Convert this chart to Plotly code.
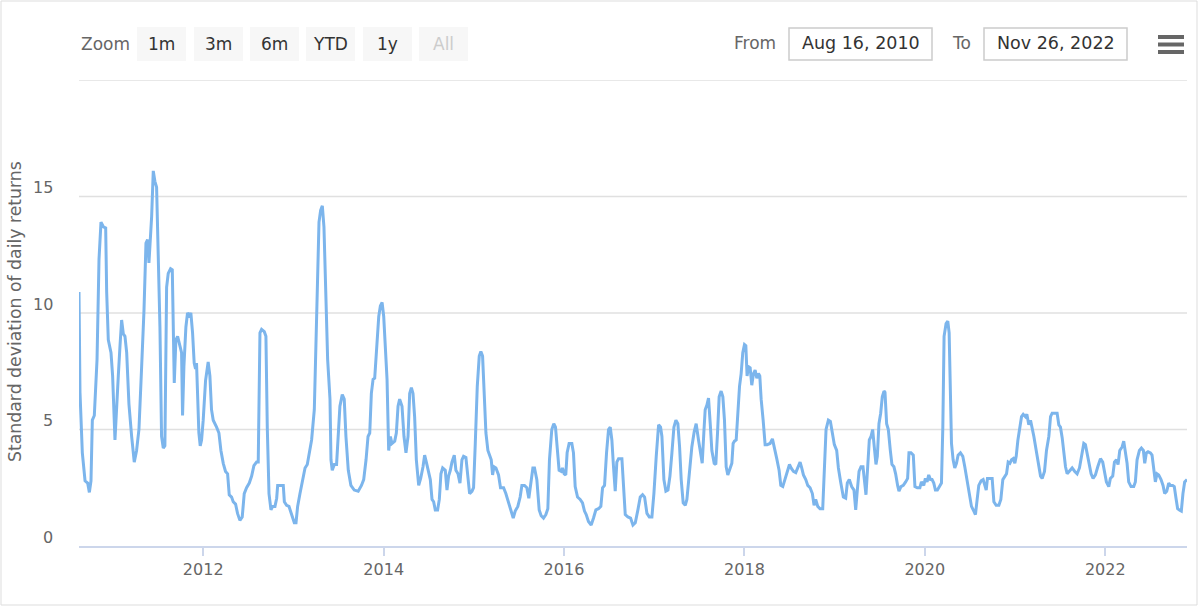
import pandas as pd
import plotly.graph_objects as go

# ---------------- data ----------------
decimal_year = [
    2010.622, 2010.633, 2010.659, 2010.689, 2010.718, 2010.737, 2010.755, 2010.770, 2010.792, 2010.822,
    2010.844, 2010.866, 2010.892, 2010.918, 2010.929, 2010.947, 2010.977, 2010.995, 2011.021, 2011.040,
    2011.058, 2011.077, 2011.095, 2011.114, 2011.132, 2011.151, 2011.176, 2011.206, 2011.235, 2011.261,
    2011.287, 2011.317, 2011.343, 2011.365, 2011.383, 2011.398, 2011.413, 2011.428, 2011.446, 2011.464,
    2011.483, 2011.501, 2011.520, 2011.538, 2011.557, 2011.575, 2011.594, 2011.612, 2011.638, 2011.657,
    2011.668, 2011.679, 2011.697, 2011.716, 2011.741, 2011.760, 2011.771, 2011.786, 2011.808, 2011.826,
    2011.845, 2011.863, 2011.882, 2011.900, 2011.915, 2011.926, 2011.937, 2011.952, 2011.967, 2011.982,
    2012.000, 2012.026, 2012.055, 2012.074, 2012.092, 2012.111, 2012.148, 2012.174, 2012.196, 2012.222,
    2012.247, 2012.270, 2012.288, 2012.314, 2012.332, 2012.358, 2012.380, 2012.406, 2012.432, 2012.454,
    2012.480, 2012.510, 2012.536, 2012.561, 2012.591, 2012.609, 2012.628, 2012.646, 2012.676, 2012.694,
    2012.709, 2012.728, 2012.750, 2012.768, 2012.794, 2012.813, 2012.824, 2012.850, 2012.886, 2012.898,
    2012.923, 2012.949, 2012.979, 2013.008, 2013.027, 2013.045, 2013.071, 2013.101, 2013.127, 2013.152,
    2013.175, 2013.200, 2013.230, 2013.256, 2013.282, 2013.300, 2013.319, 2013.337, 2013.356, 2013.378,
    2013.404, 2013.415, 2013.429, 2013.452, 2013.477, 2013.496, 2013.514, 2013.540, 2013.562, 2013.581,
    2013.607, 2013.636, 2013.673, 2013.717,
    2013.753, 2013.778, 2013.804, 2013.826, 2013.845, 2013.863, 2013.882, 2013.900, 2013.919, 2013.945,
    2013.963, 2013.982, 2014.000, 2014.018, 2014.037, 2014.055, 2014.074, 2014.092, 2014.122, 2014.140,
    2014.159, 2014.177, 2014.203, 2014.225, 2014.247, 2014.270, 2014.288, 2014.307, 2014.325, 2014.343,
    2014.362, 2014.388, 2014.410, 2014.436, 2014.454, 2014.473, 2014.499, 2014.517, 2014.536, 2014.554,
    2014.572, 2014.598, 2014.617, 2014.635, 2014.654, 2014.683, 2014.702, 2014.720, 2014.739, 2014.757,
    2014.783, 2014.801, 2014.824, 2014.846, 2014.868, 2014.886, 2014.912, 2014.934, 2014.953, 2014.979,
    2014.997, 2015.016, 2015.038, 2015.060, 2015.078, 2015.097, 2015.115, 2015.134, 2015.156, 2015.175,
    2015.193, 2015.208, 2015.223, 2015.245, 2015.274, 2015.296, 2015.330, 2015.355, 2015.385, 2015.415,
    2015.437, 2015.459, 2015.488, 2015.514, 2015.533, 2015.562, 2015.588, 2015.610, 2015.633, 2015.655,
    2015.673, 2015.699, 2015.725, 2015.747, 2015.773, 2015.799, 2015.821, 2015.839, 2015.865, 2015.887,
    2015.906, 2015.924, 2015.946, 2015.969, 2015.983, 2016.002, 2016.020, 2016.035, 2016.057, 2016.087,
    2016.105, 2016.124, 2016.150, 2016.179, 2016.205, 2016.227, 2016.246, 2016.271, 2016.301, 2016.327,
    2016.353, 2016.382, 2016.408, 2016.427, 2016.449, 2016.471, 2016.493, 2016.512, 2016.530, 2016.548,
    2016.567, 2016.585, 2016.604, 2016.641, 2016.659, 2016.678, 2016.707, 2016.737, 2016.763, 2016.789,
    2016.818, 2016.844,
    2016.870, 2016.892, 2016.918, 2016.944, 2016.973, 2016.995, 2017.021, 2017.047, 2017.069, 2017.084,
    2017.106, 2017.128, 2017.151, 2017.173, 2017.195, 2017.217, 2017.239, 2017.261, 2017.280, 2017.298,
    2017.320, 2017.343, 2017.361, 2017.380, 2017.398, 2017.416, 2017.442, 2017.464, 2017.490, 2017.516,
    2017.531, 2017.549, 2017.564, 2017.583, 2017.601, 2017.620, 2017.638, 2017.664, 2017.682, 2017.701,
    2017.719, 2017.741, 2017.760, 2017.778, 2017.797, 2017.815, 2017.834, 2017.860, 2017.874, 2017.889,
    2017.908, 2017.926, 2017.945, 2017.963, 2017.981, 2018.000, 2018.015, 2018.029, 2018.044, 2018.063,
    2018.081, 2018.100, 2018.118, 2018.137, 2018.155, 2018.170, 2018.185, 2018.207, 2018.229, 2018.251,
    2018.284, 2018.310, 2018.332, 2018.358, 2018.384, 2018.403, 2018.425, 2018.451, 2018.476, 2018.499,
    2018.517, 2018.543, 2018.569, 2018.591, 2018.617, 2018.635, 2018.654, 2018.680, 2018.702, 2018.728,
    2018.753, 2018.772, 2018.790, 2018.813, 2018.838, 2018.868, 2018.886, 2018.905, 2018.931, 2018.953,
    2018.975, 2018.997, 2019.023, 2019.042, 2019.067, 2019.097, 2019.123, 2019.141, 2019.163, 2019.189,
    2019.215, 2019.234, 2019.252, 2019.271, 2019.293, 2019.315, 2019.330, 2019.348, 2019.367, 2019.385,
    2019.404, 2019.422, 2019.440, 2019.459, 2019.474, 2019.492, 2019.511, 2019.529, 2019.548, 2019.559,
    2019.577, 2019.596, 2019.618, 2019.636, 2019.658, 2019.677, 2019.699, 2019.714, 2019.736, 2019.762,
    2019.788, 2019.810, 2019.825, 2019.847, 2019.873, 2019.891, 2019.917, 2019.946,
    2019.963, 2019.989, 2020.007, 2020.026, 2020.044, 2020.063, 2020.081, 2020.100, 2020.118, 2020.140,
    2020.163, 2020.185, 2020.200, 2020.214, 2020.236, 2020.255, 2020.270, 2020.281, 2020.296, 2020.314,
    2020.332, 2020.351, 2020.369, 2020.395, 2020.421, 2020.443, 2020.462, 2020.480, 2020.499, 2020.517,
    2020.543, 2020.561, 2020.580, 2020.598, 2020.624, 2020.646, 2020.665, 2020.680, 2020.694, 2020.717,
    2020.746, 2020.765, 2020.790, 2020.820, 2020.842, 2020.864, 2020.886, 2020.905, 2020.923, 2020.942,
    2020.960, 2020.979, 2020.997, 2021.012, 2021.031, 2021.053, 2021.071, 2021.090, 2021.115, 2021.130,
    2021.152, 2021.171, 2021.189, 2021.208, 2021.234, 2021.256, 2021.282, 2021.300, 2021.326, 2021.348,
    2021.374, 2021.393, 2021.411, 2021.441, 2021.466, 2021.485, 2021.503, 2021.522, 2021.540, 2021.559,
    2021.577, 2021.603, 2021.633, 2021.662, 2021.688, 2021.714, 2021.736, 2021.762, 2021.780, 2021.799,
    2021.817, 2021.843, 2021.865, 2021.891, 2021.917, 2021.947, 2021.972, 2021.995, 2022.013, 2022.039,
    2022.057, 2022.083, 2022.102, 2022.124, 2022.142, 2022.161, 2022.187, 2022.205, 2022.224, 2022.242,
    2022.260, 2022.286, 2022.316, 2022.334, 2022.353, 2022.379, 2022.401, 2022.423, 2022.438, 2022.456,
    2022.475, 2022.501, 2022.519, 2022.537, 2022.556, 2022.574, 2022.593, 2022.619, 2022.641, 2022.659,
    2022.682, 2022.704, 2022.722, 2022.748, 2022.766, 2022.785, 2022.803, 2022.822, 2022.844, 2022.862,
    2022.881, 2022.907,
]

std_dev = [
    10.9, 6.6, 4.0, 2.8, 2.7, 2.3, 2.8, 5.4, 5.6, 8.0,
    12.3, 13.9, 13.7, 13.65, 10.9, 8.85, 8.3, 7.3, 4.55, 6.3,
    7.3, 8.6, 9.7, 9.1, 9.0, 8.3, 6.1, 4.7, 3.6, 4.1,
    5.0, 7.7, 10.1, 13.0, 13.15, 12.15, 13.15, 14.15, 16.1, 15.65,
    15.4, 12.6, 9.4, 4.7, 4.2, 4.3, 11.1, 11.7, 11.9, 11.85,
    8.85, 7.0, 8.85, 9.0, 8.6, 8.3, 5.6, 7.7, 9.4, 10.0,
    9.9, 10.0, 9.15, 7.85, 7.6, 7.85, 6.6, 4.85, 4.3, 4.55,
    5.4, 7.1, 7.9, 7.3, 5.85, 5.4, 5.1, 4.85, 4.1, 3.55,
    3.2, 3.1, 2.2, 2.1, 1.9, 1.8, 1.4, 1.1, 1.25, 2.25,
    2.5, 2.7, 3.0, 3.45, 3.6, 3.6, 9.15, 9.3, 9.2, 9.0,
    5.1, 2.25, 1.55, 1.7, 1.7, 2.05, 2.6, 2.6, 2.6, 1.9,
    1.75, 1.7, 1.35, 1.0, 1.0, 1.7, 2.25, 2.85, 3.35, 3.5,
    4.0, 4.55, 5.85, 9.7, 13.9, 14.4, 14.6, 13.7, 10.9, 8.0,
    6.3, 3.7, 3.25, 3.5, 3.5, 4.55, 6.0, 6.5, 6.3, 4.7,
    3.25, 2.6, 2.4, 2.35,
    2.6, 2.85, 3.7, 4.7, 4.85, 6.55, 7.15, 7.2, 8.3, 9.85,
    10.3, 10.45, 9.85, 8.55, 7.15, 4.1, 4.7, 4.4, 4.5, 4.85,
    6.0, 6.3, 6.0, 4.7, 4.0, 4.7, 6.55, 6.8, 6.55, 5.55,
    3.7, 2.6, 2.9, 3.4, 3.9, 3.6, 3.1, 2.85, 2.0, 1.9,
    1.55, 1.55, 2.0, 3.1, 3.35, 3.25, 2.4, 3.0, 3.25, 3.6,
    3.9, 3.25, 3.1, 2.7, 3.7, 3.85, 3.8, 3.1, 2.25, 2.35,
    2.5, 4.4, 6.85, 8.15, 8.35, 8.15, 6.55, 4.85, 4.1, 3.85,
    3.7, 3.05, 3.4, 3.35, 3.05, 2.5, 2.5, 2.25, 1.85, 1.4,
    1.2, 1.5, 1.7, 2.1, 2.6, 2.6, 2.5, 2.05, 2.85, 3.35,
    3.35, 2.85, 1.55, 1.3, 1.2, 1.35, 1.6, 3.7, 5.0, 5.25,
    5.1, 4.25, 3.25, 3.2, 3.35, 3.1, 3.05, 4.0, 4.4, 4.4,
    4.0, 2.55, 2.1, 2.0, 1.85, 1.5, 1.35, 1.05, 0.9, 1.2,
    1.55, 1.6, 1.7, 2.5, 2.6, 4.0, 5.0, 5.1, 4.55, 3.4,
    2.35, 3.6, 3.75, 3.75, 2.55, 1.35, 1.25, 1.2, 0.9, 1.0,
    1.55, 2.1,
    2.2, 2.1, 1.4, 1.25, 1.25, 2.25, 3.85, 5.2, 5.1, 4.7,
    2.85, 2.35, 2.4, 3.0, 4.0, 5.1, 5.4, 5.25, 4.25, 2.85,
    1.85, 1.75, 2.0, 2.85, 3.7, 4.25, 4.9, 5.25, 4.55, 4.0,
    3.55, 4.85, 5.85, 6.05, 6.35, 5.25, 4.1, 3.55, 3.5, 4.85,
    6.4, 6.65, 6.4, 5.4, 3.4, 3.05, 3.25, 3.55, 4.4, 4.5,
    4.55, 5.7, 6.85, 7.4, 8.3, 8.65, 8.6, 7.3, 7.7, 7.65,
    6.9, 7.4, 7.55, 7.2, 7.4, 7.3, 6.3, 5.4, 4.35, 4.35,
    4.4, 4.6, 4.25, 3.75, 3.25, 2.6, 2.55, 2.85, 3.2, 3.5,
    3.35, 3.2, 3.15, 3.4, 3.6, 3.35, 3.05, 2.85, 2.6, 2.5,
    2.25, 1.75, 2.0, 1.7, 1.6, 1.6, 3.4, 5.0, 5.4, 5.35,
    4.85, 4.35, 4.1, 3.35, 2.75, 2.1, 2.05, 2.7, 2.85, 2.55,
    2.4, 1.55, 2.4, 3.2, 3.4, 3.4, 2.85, 2.2, 3.4, 4.55,
    4.7, 5.0, 4.25, 3.5, 3.85, 5.25, 5.7, 6.4, 6.65, 6.6,
    5.25, 5.0, 4.1, 3.5, 3.4, 3.1, 2.6, 2.35, 2.55, 2.6,
    2.75, 2.9, 4.0, 4.0, 3.9, 2.55, 2.5, 2.5,
    2.75, 2.6, 2.9, 2.75, 3.05, 2.85, 2.85, 2.7, 2.4, 2.4,
    2.55, 2.7, 5.1, 9.0, 9.55, 9.65, 9.15, 6.55, 4.4, 3.7,
    3.35, 3.55, 3.9, 4.0, 3.85, 3.4, 3.0, 2.6, 2.1, 1.7,
    1.5, 1.35, 2.0, 2.6, 2.8, 2.85, 2.6, 2.4, 2.9, 2.9,
    2.9, 1.9, 1.75, 1.75, 2.0, 2.85, 3.0, 3.1, 3.6, 3.55,
    3.7, 3.75, 3.55, 3.85, 4.55, 5.1, 5.55, 5.65, 5.55, 5.65,
    5.2, 5.4, 5.1, 4.7, 4.1, 3.5, 3.0, 2.9, 3.2, 4.1,
    4.7, 5.55, 5.7, 5.7, 5.7, 5.2, 5.1, 4.65, 4.0, 3.4,
    3.1, 3.2, 3.35, 3.2, 3.1, 3.35, 3.85, 4.4, 4.35, 4.0,
    3.55, 3.1, 2.9, 3.05, 3.4, 3.75, 3.6, 3.2, 2.75, 2.55,
    2.9, 3.0, 3.6, 3.7, 3.5, 4.1, 4.25, 4.5, 4.1, 3.55,
    2.75, 2.55, 2.55, 2.75, 3.7, 4.1, 4.2, 4.1, 3.55, 4.0,
    4.05, 4.0, 3.9, 3.25, 2.75, 3.1, 3.05, 2.85, 2.6, 2.25,
    2.35, 2.7, 2.6, 2.6, 2.55, 2.05, 1.6, 1.55, 1.5, 2.25,
    2.75, 2.85,
]

y_tick_values = [0, 5, 10, 15]
y_grid_values = [5, 10, 15, 20]
x_tick_years = [2012, 2014, 2016, 2018, 2020, 2022]
zoom_buttons = ["1m", "3m", "6m", "YTD", "1y", "All"]
date_from_label = "Aug 16, 2010"
date_to_label = "Nov 26, 2022"
y_title = "Standard deviation of daily returns"


def to_timestamp(d):
    y = int(d)
    start = pd.Timestamp(year=y, month=1, day=1)
    end = pd.Timestamp(year=y + 1, month=1, day=1)
    return start + (end - start) * (d - y)


dates = [to_timestamp(d) for d in decimal_year]

# ---------------- style ----------------
FONT = "DejaVu Sans"
LINE_COLOR = "#7cb5ec"
GRID = "#e0e0e0"
AXIS = "#ccd6eb"
LABEL = "#666666"
DARK = "#333333"

PL, PT = 79, 80          # plot-area left / top in page pixels
W, H = 1200, 608
PR, PB = 1187, 546       # plot-area right / bottom

fig = go.Figure()
fig.add_trace(go.Scatter(
    x=dates, y=std_dev, mode="lines",
    line=dict(color=LINE_COLOR, width=3),
    hoverinfo="x+y", showlegend=False,
))

fig.update_layout(
    width=W, height=H,
    margin=dict(l=PL, r=W - PR, t=PT, b=H - PB, pad=0),
    paper_bgcolor="white", plot_bgcolor="white",
    font=dict(family=FONT, color=LABEL),
    showlegend=False,
    xaxis=dict(
        type="date",
        range=[dates[0], dates[-1]],
        tickvals=[pd.Timestamp(year=y, month=1, day=1) for y in x_tick_years],
        ticktext=[str(y) for y in x_tick_years],
        ticks="outside", ticklen=8, tickcolor=AXIS, tickwidth=1.5,
        showline=True, linecolor=AXIS, linewidth=1.5,
        showgrid=False, zeroline=False,
        tickfont=dict(family=FONT, size=16, color=LABEL),
    ),
    yaxis=dict(
        range=[0, 20],
        showticklabels=False, showgrid=False,
        zeroline=False, showline=False,
        fixedrange=True,
    ),
)

annotations = []
shapes = []

# horizontal grid lines (including the top one at 20)
for v in y_grid_values:
    shapes.append(dict(
        type="line", xref="paper", yref="y", x0=0, x1=1, y0=v, y1=v,
        line=dict(color=GRID, width=1.3), layer="below",
    ))

# y tick labels (Highcharts places them slightly above the grid line)
for v in y_tick_values:
    annotations.append(dict(
        xref="paper", yref="y", x=0, y=v, xanchor="right", yanchor="middle",
        xshift=-24, yshift=9, showarrow=False, text=str(v),
        font=dict(family=FONT, size=16, color=LABEL),
    ))

# y axis title
annotations.append(dict(
    xref="paper", yref="paper", x=0, y=0.5, xanchor="center", yanchor="middle",
    xshift=15 - PL, yshift=1, showarrow=False, text=y_title, textangle=-90,
    font=dict(family=FONT, size=17.3, color=LABEL),
))


def px_ann(text, cx, cy, color, size=17, anchor="center"):
    annotations.append(dict(
        xref="paper", yref="paper", x=0, y=1, xanchor=anchor, yanchor="middle",
        xshift=cx - PL, yshift=PT - cy, showarrow=False, text=text,
        font=dict(family=FONT, size=size, color=color),
    ))


def px_rect(x0, y0, x1, y1, fill, line_color=None, line_width=0):
    shapes.append(dict(
        type="rect", xref="paper", yref="paper",
        xsizemode="pixel", ysizemode="pixel", xanchor=0, yanchor=1,
        x0=x0 - PL, x1=x1 - PL, y0=PT - y0, y1=PT - y1,
        fillcolor=fill, layer="above",
        line=dict(color=line_color or fill, width=line_width),
    ))


# range-selector toolbar
px_ann("Zoom", 105, 44, LABEL)
btn_x = [137, 194, 250, 306, 363, 419]
for label, bx in zip(zoom_buttons, btn_x):
    px_rect(bx, 27, bx + 49, 61, "#f7f7f7")
    px_ann(label, bx + 24.5, 44, "#cccccc" if label == "All" else DARK)

px_ann("From", 754.5, 43, LABEL)
px_rect(789, 28, 932, 60, "white", "#cccccc", 1.5)
px_ann(date_from_label, 860.5, 43, DARK, size=17.5)
px_ann("To", 961.5, 43, LABEL)
px_rect(984, 28, 1127, 60, "white", "#cccccc", 1.5)
px_ann(date_to_label, 1055.5, 43, DARK, size=17.5)

# export (hamburger) menu icon
for yb in (37, 44.5, 52):
    px_rect(1158, yb - 2, 1184, yb + 2, "#666666")

# outer border of the chart container
shapes.append(dict(
    type="rect", xref="paper", yref="paper",
    xsizemode="pixel", ysizemode="pixel", xanchor=0, yanchor=1,
    x0=1 - PL, x1=1197 - PL, y0=PT - 1, y1=PT - 605,
    fillcolor="rgba(0,0,0,0)", layer="below",
    line=dict(color="#dddddd", width=1),
))

fig.update_layout(annotations=annotations, shapes=shapes)
fig.write_html("out.html", config={"displayModeBar": False})
